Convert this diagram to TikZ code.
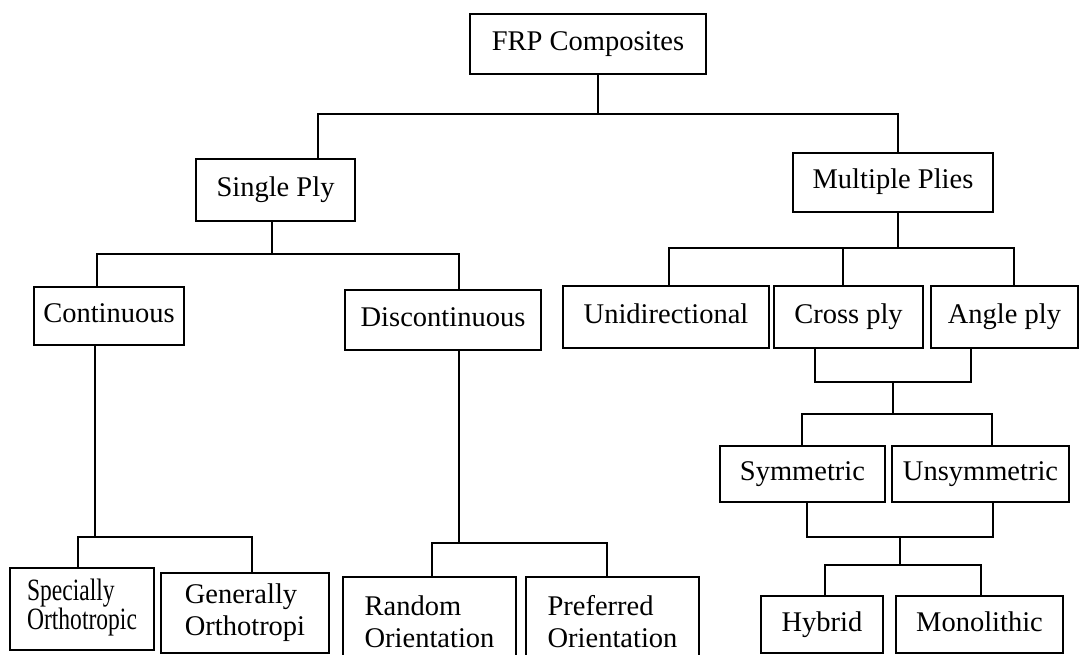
\documentclass[tikz,border=0pt]{standalone}
\usepackage{fontspec}
\usepackage{graphicx}
\setmainfont{Liberation Serif}
\begin{document}
\begin{tikzpicture}[x=1pt,y=1pt,
  base/.style={draw=black, line width=1.9pt, fill=white, inner sep=0pt,
    font=\fontsize{28.5}{32}\selectfont},
  box/.style={base, align=center, text height=19pt, text depth=6pt},
  twoline/.style={base, align=left},
  conn/.style={draw=black, line width=1.9pt, line cap=rect, line join=miter}]
\useasboundingbox (0,0) rectangle (1082,-655);
\clip (0,0) rectangle (1082,-655);
\fill[white] (0,0) rectangle (1082,-655);

% nodes
\node[box, minimum width=236pt, minimum height=60pt] (frp) at (588,-44) {FRP Composites};
\node[box, minimum width=159pt, minimum height=62pt] (single) at (275.5,-190) {Single Ply};
\node[box, minimum width=200pt, minimum height=59pt] (multi) at (893,-182.5) {Multiple Plies};
\node[box, minimum width=150pt, minimum height=58pt] (cont) at (109,-316) {Continuous};
\node[box, minimum width=196pt, minimum height=60pt] (discont) at (443,-320) {Discontinuous};
\node[box, minimum width=206pt, minimum height=62pt] (uni) at (666,-317) {Unidirectional};
\node[box, minimum width=149pt, minimum height=62pt] (cross) at (848.5,-317) {Cross ply};
\node[box, minimum width=147pt, minimum height=62pt] (angle) at (1004.5,-317) {Angle ply};
\node[box, minimum width=165pt, minimum height=56pt] (sym) at (802.5,-474) {Symmetric};
\node[box, minimum width=177pt, minimum height=56pt] (unsym) at (980.5,-474) {Unsymmetric};
\node[box, minimum width=122pt, minimum height=57pt] (hybrid) at (822,-624.5) {Hybrid};
\node[box, minimum width=167pt, minimum height=57pt] (mono) at (979.5,-624.5) {Monolithic};
\node[twoline, minimum width=144pt, minimum height=82pt] (spec) at (82,-609)
  {\scalebox{0.76}[1]{\fontsize{31}{31}\selectfont\begin{tabular}{@{}l@{}}Specially\\[-2pt]Orthotropic\end{tabular}}};
\node[twoline, minimum width=168pt, minimum height=80pt] (gen) at (245,-613) {Generally\\Orthotropi};
\node[twoline, minimum width=173pt, minimum height=90pt] (rand) at (429.5,-622) {Random\\Orientation};
\node[twoline, minimum width=173pt, minimum height=90pt] (pref) at (612.5,-622) {Preferred\\Orientation};

% junction coordinates
\coordinate (j1) at (598,-114); \coordinate (j1L) at (318,-114); \coordinate (j1R) at (898,-114);
\coordinate (j2) at (272,-254); \coordinate (j2L) at (97,-254); \coordinate (j2R) at (459,-254);
\coordinate (j3) at (898,-248); \coordinate (j3L) at (669,-248); \coordinate (j3M) at (843,-248); \coordinate (j3R) at (1014,-248);
\coordinate (j4) at (893,-382); \coordinate (j4L) at (815,-382); \coordinate (j4R) at (971,-382);
\coordinate (j5) at (893,-414); \coordinate (j5L) at (802,-414); \coordinate (j5R) at (992,-414);
\coordinate (j6) at (900,-537); \coordinate (j6L) at (807,-537); \coordinate (j6R) at (993,-537);
\coordinate (j7) at (900,-565); \coordinate (j7L) at (825,-565); \coordinate (j7R) at (981,-565);
\coordinate (j8) at (95,-537); \coordinate (j8L) at (78,-537); \coordinate (j8R) at (252,-537);
\coordinate (j9) at (459,-543); \coordinate (j9L) at (432,-543); \coordinate (j9R) at (607,-543);

% connectors
\draw[conn] (frp.south -| j1) -- (j1);
\draw[conn] (single.north -| j1L) -- (j1L) -- (j1R) -- (multi.north -| j1R);

\draw[conn] (single.south -| j2) -- (j2);
\draw[conn] (cont.north -| j2L) -- (j2L) -- (j2R) -- (discont.north -| j2R);

\draw[conn] (multi.south -| j3) -- (j3);
\draw[conn] (uni.north -| j3L) -- (j3L) -- (j3R) -- (angle.north -| j3R);
\draw[conn] (cross.north -| j3M) -- (j3M);

\draw[conn] (cross.south -| j4L) -- (j4L) -- (j4R) -- (angle.south -| j4R);
\draw[conn] (j4) -- (j5);
\draw[conn] (sym.north -| j5L) -- (j5L) -- (j5R) -- (unsym.north -| j5R);

\draw[conn] (sym.south -| j6L) -- (j6L) -- (j6R) -- (unsym.south -| j6R);
\draw[conn] (j6) -- (j7);
\draw[conn] (hybrid.north -| j7L) -- (j7L) -- (j7R) -- (mono.north -| j7R);

\draw[conn] (cont.south -| j8) -- (j8);
\draw[conn] (spec.north -| j8L) -- (j8L) -- (j8R) -- (gen.north -| j8R);

\draw[conn] (discont.south -| j9) -- (j9);
\draw[conn] (rand.north -| j9L) -- (j9L) -- (j9R) -- (pref.north -| j9R);
\end{tikzpicture}
\end{document}
